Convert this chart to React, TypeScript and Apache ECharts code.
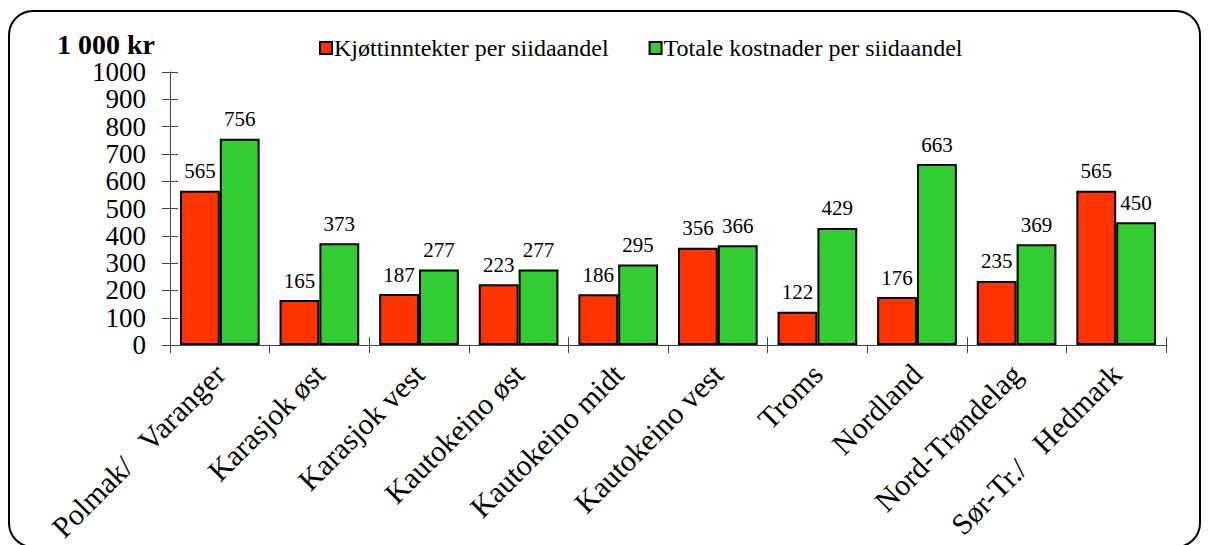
import React, { useEffect, useRef } from "react";
import * as echarts from "echarts";

const categories = [
  "Polmak/  Varanger",
  "Karasjok øst",
  "Karasjok vest",
  "Kautokeino øst",
  "Kautokeino midt",
  "Kautokeino vest",
  "Troms",
  "Nordland",
  "Nord-Trøndelag",
  "Sør-Tr./  Hedmark",
];
const meatIncome = [565, 165, 187, 223, 186, 356, 122, 176, 235, 565];
const totalCosts = [756, 373, 277, 277, 295, 366, 429, 663, 369, 450];
const seriesNames = ["Kjøttinntekter per siidaandel", "Totale kostnader per siidaandel"];
const unitLabel = "1 000 kr";

const FONT = "Liberation Serif";

export default function App() {
  const ref = useRef<HTMLDivElement>(null);
  useEffect(() => {
    if (!ref.current) return;
    const chart = echarts.init(ref.current, undefined, { renderer: "svg" });
    const axisColor = "#444";
    const yCommon = {
      type: "value" as const,
      min: 0,
      max: 1000,
      interval: 100,
      splitLine: { show: false },
    };
    const xCommon = {
      type: "category" as const,
      data: categories,
      boundaryGap: true,
    };
    const valueLabel = {
      show: true,
      position: "top" as const,
      distance: 9,
      fontSize: 21,
      fontFamily: FONT,
      color: "#000",
    };
    chart.setOption({
      animation: false,
      textStyle: { fontFamily: FONT },
      graphic: [
        {
          type: "rect",
          shape: { x: 9, y: 11, width: 1191, height: 536, r: 24 },
          style: { fill: "none", stroke: "#000", lineWidth: 2 },
          z: -1,
        },
        {
          type: "text",
          left: 57,
          top: 30,
          style: { text: unitLabel, fontSize: 28, fontWeight: "bold", fontFamily: FONT, fill: "#000" },
        },
      ],
      legend: {
        left: 314,
        top: 31,
        itemWidth: 12,
        itemHeight: 12,
        itemGap: 40,
        icon: "rect",
        itemStyle: { borderColor: "#000", borderWidth: 2 },
        textStyle: { fontSize: 24, fontFamily: FONT, color: "#000", padding: [0, 0, 0, -3] },
        data: seriesNames,
      },
      grid: { left: 170, right: 43, top: 72, bottom: 198, containLabel: false },
      xAxis: [
        {
          ...xCommon,
          axisLine: { lineStyle: { color: axisColor, width: 1 } },
          axisTick: { show: true, length: 8, lineStyle: { color: axisColor } },
          axisLabel: {
            rotate: 45,
            interval: 0,
            fontSize: 30,
            fontFamily: FONT,
            color: "#000",
            margin: 24,
            formatter: (v: string) => v.replace(/  /g, "\u00a0\u00a0\u00a0"),
          },
        },
        {
          ...xCommon,
          position: "bottom",
          axisLine: { show: false },
          axisTick: { show: true, inside: true, length: 8, lineStyle: { color: axisColor } },
          axisLabel: { show: false },
        },
      ],
      yAxis: [
        {
          ...yCommon,
          axisLine: { show: true, lineStyle: { color: axisColor, width: 1 } },
          axisTick: { show: true, length: 8, lineStyle: { color: axisColor } },
          axisLabel: {
            fontSize: 27,
            fontFamily: FONT,
            color: "#000",
            margin: 24,
            formatter: (v: number) => String(v),
          },
        },
        {
          ...yCommon,
          position: "left",
          axisLine: { show: false },
          axisTick: { show: true, inside: true, length: 8, lineStyle: { color: axisColor } },
          axisLabel: { show: false },
        },
      ],
      series: [
        {
          name: seriesNames[0],
          type: "bar",
          data: meatIncome,
          barGap: "0%",
          barCategoryGap: "20%",
          itemStyle: { color: "#FF3300", borderColor: "#000", borderWidth: 2 },
          label: valueLabel,
        },
        {
          name: seriesNames[1],
          type: "bar",
          data: totalCosts,
          barGap: "0%",
          barCategoryGap: "20%",
          itemStyle: { color: "#33CC33", borderColor: "#000", borderWidth: 2 },
          label: valueLabel,
        },
      ],
    });
    return () => chart.dispose();
  }, []);
  return (
    <div
      ref={ref}
      style={{ position: "fixed", left: 0, top: 0, width: 1209, height: 545, background: "#fff" }}
    />
  );
}
